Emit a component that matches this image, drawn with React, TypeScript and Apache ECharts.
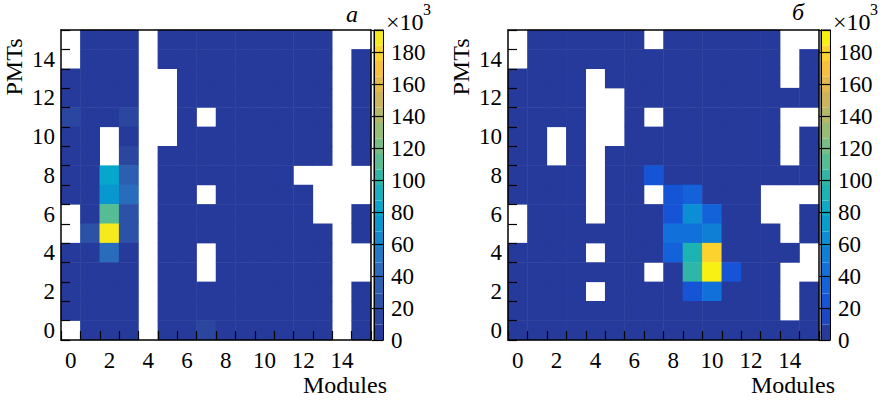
import React, { useEffect, useRef } from "react";
import * as echarts from "echarts";

const _ = null;

// categories
const modules = ["0", "1", "2", "3", "4", "5", "6", "7", "8", "9", "10", "11", "12", "13", "14", "15"];
const pmts = ["0", "1", "2", "3", "4", "5", "6", "7", "8", "9", "10", "11", "12", "13", "14", "15"];

// counts (×10^3); rows listed from PMT 15 (top) down to PMT 0; columns = modules 0..15; null = empty bin
const countsA: (number | null)[][] = [
  [_, 5, 5, 5, _, 5, 5, 5, 5, 5, 5, 5, 5, 5, _, _],
  [_, 5, 5, 5, _, 5, 5, 5, 5, 5, 5, 5, 5, 5, _, 5],
  [5, 5, 5, 5, _, _, 5, 5, 5, 5, 5, 5, 5, 5, _, 5],
  [5, 5, 5, 5, _, _, 5, 5, 5, 5, 5, 5, 5, 5, _, 5],
  [12, 5, 5, 14, _, _, 5, _, 5, 5, 5, 5, 5, 5, _, 5],
  [5, 5, _, 5, _, _, 5, 5, 5, 5, 5, 5, 5, 5, _, 5],
  [5, 5, _, 15, _, 5, 5, 5, 5, 5, 5, 5, 5, 5, _, 5],
  [5, 5, 86, 30, _, 5, 5, 5, 5, 5, 5, 5, _, _, _, _],
  [5, 5, 72, 44, _, 5, 5, _, 5, 5, 5, 5, 5, _, _, _],
  [_, 5, 116, 22, _, 5, 5, 5, 5, 5, 5, 5, 5, _, _, 5],
  [_, 24, 188, 20, _, 5, 5, 5, 5, 5, 5, 5, 5, 5, _, 5],
  [5, 5, 40, 5, _, 5, 5, _, 5, 5, 5, 5, 5, 5, _, _],
  [5, 5, 5, 5, _, 5, 5, _, 5, 5, 5, 5, 5, 5, _, _],
  [5, 5, 5, 5, _, 5, 5, 5, 5, 5, 5, 5, 5, 5, _, 5],
  [5, 5, 5, 5, _, 5, 5, 5, 5, 5, 5, 5, 5, 5, _, 5],
  [_, 5, 5, 5, _, 5, 5, 14, 5, 5, 5, 5, 5, 5, _, 5],
];

const countsB: (number | null)[][] = [
  [_, 5, 5, 5, 5, 5, 5, _, 5, 5, 5, 5, 5, 5, _, _],
  [_, 5, 5, 5, 5, 5, 5, 5, 5, 5, 5, 5, 5, 5, _, 5],
  [5, 5, 5, 5, _, 5, 5, 5, 5, 5, 5, 5, 5, 5, _, 5],
  [5, 5, 5, 5, _, _, 5, 5, 5, 5, 5, 5, 5, 5, 5, 5],
  [5, 5, 5, 5, _, _, 5, _, 5, 5, 5, 5, 5, 5, _, _],
  [5, 5, _, 5, _, _, 5, 5, 5, 5, 5, 5, 5, 5, _, 5],
  [5, 5, _, 5, _, 5, 5, 5, 5, 5, 5, 5, 5, 5, _, 5],
  [5, 5, 5, 5, _, 5, 5, 20, 5, 5, 5, 5, 5, 5, 5, 5],
  [5, 5, 5, 5, _, 5, 5, _, 20, 30, 5, 5, 5, _, _, _],
  [_, 5, 5, 5, _, 5, 5, 5, 20, 62, 30, 5, 5, _, _, 5],
  [_, 5, 5, 5, 5, 5, 5, 5, 40, 40, 55, 5, 5, 5, _, 5],
  [5, 5, 5, 5, _, 5, 5, 5, 35, 90, 178, 5, 5, 5, 5, _],
  [5, 5, 5, 5, 5, 5, 5, _, 5, 100, 192, 20, 5, 5, _, _],
  [5, 5, 5, 5, _, 5, 5, 5, 5, 22, 40, 5, 5, 5, _, 5],
  [5, 5, 5, 5, 5, 5, 5, 5, 5, 5, 5, 5, 5, 5, _, 5],
  [5, 5, 5, 5, 5, 5, 5, 5, 5, 5, 5, 5, 5, 5, 5, 5],
];

const zMax = 194;
const zInterval = 20;

const paletteA = [
  "#263a9b", "#2a469f", "#2c52a8", "#2c5fb2", "#2a6cbc", "#2279c4", "#1588cc", "#0898cf", "#07a6cb", "#18b0bc",
  "#30b6a8", "#55bc94", "#78be84", "#98bc74", "#b4b866", "#cdb45a", "#e4b84c", "#f7c03c", "#fbd22e", "#f5ea1e",
];
const paletteB = [
  "#263a9b", "#1b47c2", "#1654d6", "#1462da", "#1270da", "#0f7fd6", "#0c8ed4", "#099dcf", "#0caac6", "#1eb3b3",
  "#30b6a8", "#55bc94", "#78be84", "#98bc74", "#b4b866", "#cdb45a", "#e4b84c", "#f7c03c", "#fbd22e", "#f8f010",
];

const FONT = "'Liberation Serif', 'DejaVu Serif', serif";

function toCells(m: (number | null)[][]) {
  const out: [number, number, number][] = [];
  m.forEach((row, r) => {
    row.forEach((v, c) => {
      if (v !== null) out.push([c, pmts.length - 1 - r, v]);
    });
  });
  return out;
}

function pieces(pal: string[]) {
  const step = zMax / pal.length;
  return pal.map((color, i) =>
    i === pal.length - 1
      ? { gte: i * step, lte: zMax + 1000, color }
      : { gte: i * step, lt: (i + 1) * step, color }
  );
}

function colorbarSeries(pal: string[], xi: number, yi: number, stack: string) {
  const step = zMax / pal.length;
  return pal.map((color) => ({
    type: "bar",
    xAxisIndex: xi,
    yAxisIndex: yi,
    stack,
    data: [step],
    barWidth: "100%",
    itemStyle: { color },
    silent: true,
  }));
}

const labelStyle = { color: "#000", fontFamily: FONT, fontSize: 23 };

function frameX(gridIndex: number, position: string, main: boolean) {
  return {
    type: "category",
    gridIndex,
    position,
    data: modules,
    z: 10,
    axisLine: { show: true, lineStyle: { color: "#000", width: 1.5 } },
    axisTick: main
      ? { show: true, inside: true, length: 9, interval: 0, lineStyle: { color: "#000", width: 1.2 } }
      : { show: false },
    axisLabel: main ? { show: true, interval: 1, margin: 9, ...labelStyle } : { show: false },
    splitLine: { show: false },
  };
}
function frameY(gridIndex: number, position: string, main: boolean) {
  return {
    type: "category",
    gridIndex,
    position,
    data: pmts,
    z: 10,
    axisLine: { show: true, lineStyle: { color: "#000", width: 1.5 } },
    axisTick: main
      ? { show: true, inside: true, length: 9, interval: 0, lineStyle: { color: "#000", width: 1.2 } }
      : { show: false },
    axisLabel: main ? { show: true, interval: 1, margin: 6, ...labelStyle } : { show: false },
    splitLine: { show: false },
  };
}
function cbX(gridIndex: number) {
  return {
    type: "category",
    gridIndex,
    data: ["c"],
    z: 10,
    axisLine: { show: true, lineStyle: { color: "#000", width: 1 } },
    axisTick: { show: false },
    axisLabel: { show: false },
  };
}
function cbY(gridIndex: number, main: boolean) {
  return {
    type: "value",
    gridIndex,
    position: main ? "right" : "left",
    min: 0,
    max: zMax,
    interval: zInterval,
    z: 10,
    axisLine: { show: true, lineStyle: { color: "#000", width: 1 } },
    axisTick: main
      ? { show: true, inside: true, length: 11, lineStyle: { color: "#000", width: 1.2 } }
      : { show: false },
    axisLabel: main
      ? {
          show: true,
          margin: 8,
          ...labelStyle,
          formatter: (v: number) => (v % zInterval === 0 ? String(v) : ""),
        }
      : { show: false },
    splitLine: { show: false },
  };
}

function txt(text: string, x: number, y: number, extra: any = {}) {
  return {
    type: "text",
    x,
    y,
    silent: true,
    style: {
      text,
      fill: "#000",
      fontFamily: FONT,
      fontSize: 24,
      align: "center",
      verticalAlign: "middle",
      ...extra,
    },
  };
}

export default function App() {
  const ref = useRef<HTMLDivElement>(null);
  useEffect(() => {
    if (!ref.current) return;
    const chart = echarts.init(ref.current, undefined, { renderer: "svg" });
    const option: any = {
      animation: false,
      backgroundColor: "#fff",
      textStyle: { fontFamily: FONT },
      grid: [
        { left: 61, top: 30, width: 310, height: 310 },
        { left: 374, top: 30, width: 9, height: 310, show: true, borderColor: "#000", borderWidth: 1 },
        { left: 508, top: 30, width: 311, height: 310 },
        { left: 821, top: 30, width: 9, height: 310, show: true, borderColor: "#000", borderWidth: 1 },
      ],
      xAxis: [frameX(0, "bottom", true), frameX(0, "top", false), cbX(1), frameX(2, "bottom", true), frameX(2, "top", false), cbX(3)],
      yAxis: [
        frameY(0, "left", true),
        frameY(0, "right", false),
        cbY(1, true),
        cbY(1, false),
        frameY(2, "left", true),
        frameY(2, "right", false),
        cbY(3, true),
        cbY(3, false),
      ],
      visualMap: [
        { type: "piecewise", show: false, seriesIndex: 0, dimension: 2, pieces: pieces(paletteA) },
        { type: "piecewise", show: false, seriesIndex: 1, dimension: 2, pieces: pieces(paletteB) },
      ],
      series: [
        { type: "heatmap", xAxisIndex: 0, yAxisIndex: 0, data: toCells(countsA), itemStyle: { borderWidth: 0 } },
        { type: "heatmap", xAxisIndex: 3, yAxisIndex: 4, data: toCells(countsB), itemStyle: { borderWidth: 0 } },
        ...colorbarSeries(paletteA, 2, 2, "cbA"),
        ...colorbarSeries(paletteB, 5, 6, "cbB"),
      ],
      graphic: [
        txt("PMTs", 14, 67, { rotation: 0 }),
        txt("PMTs", 461, 67),
        txt("Modules", 345, 385),
        txt("Modules", 793, 385),
        txt("а", 352, 14, { fontStyle: "italic", fontSize: 24 }),
        txt("б", 798, 12, { fontStyle: "italic", fontSize: 24 }),
        txt("×10", 386, 22, { align: "left", fontSize: 24 }),
        txt("3", 423, 9, { align: "left", fontSize: 16 }),
        txt("×10", 833, 22, { align: "left", fontSize: 24 }),
        txt("3", 870, 9, { align: "left", fontSize: 16 }),
      ].map((g: any, i: number) => (i < 2 ? { ...g, rotation: Math.PI / 2 } : g)),
    };
    chart.setOption(option);
    return () => chart.dispose();
  }, []);
  return (
    <div
      ref={ref}
      style={{ position: "fixed", left: 0, top: 0, width: 888, height: 400, background: "#fff" }}
    />
  );
}
